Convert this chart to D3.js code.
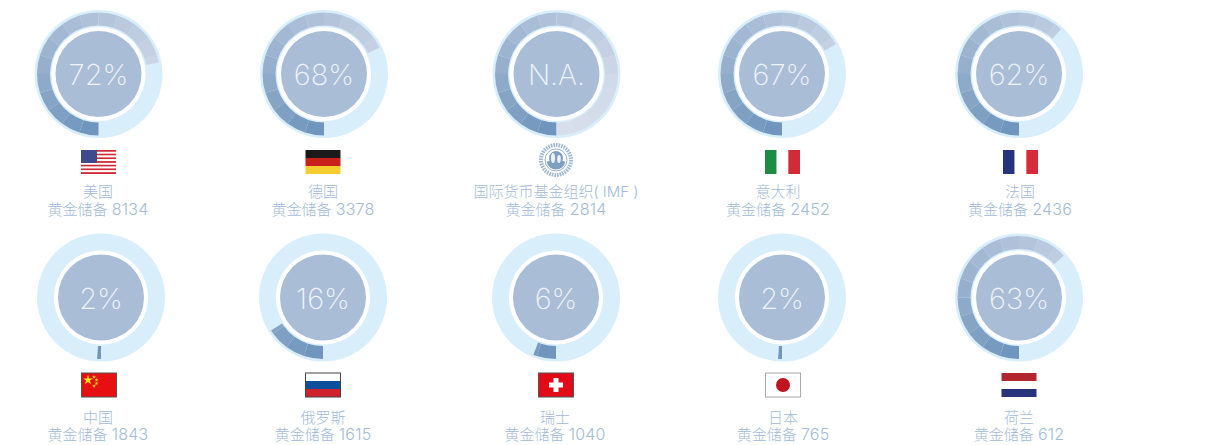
<!DOCTYPE html>
<html><head><meta charset="utf-8">
<script src="https://cdn.jsdelivr.net/npm/d3@7/dist/d3.min.js"></script>
<style>html,body{margin:0;padding:0;background:#fff;overflow:hidden}svg{display:block}</style>
</head><body><svg id="c" width="1229" height="445"></svg>
<script>
const countries=["美国","德国","国际货币基金组织( IMF )","意大利","法国","中国","俄罗斯","瑞士","日本","荷兰"];
const reserves=[8134,3378,2814,2452,2436,1843,1615,1040,765,612];
const shares=[72,68,null,67,62,1,16,6,1,63];
const shareLabels=["72%","68%","N.A.","67%","62%","2%","16%","6%","2%","63%"];
const flags=["us","de","imf","it","fr","cn","ru","ch","jp","nl"];

// layout (not data)
const gaugeX=[98.5,324,556.5,782,1019,101,323,556,782,1019];
const flagX=[98.5,323,556,782.5,1020.5,99,323,556,783,1019];
const labelX=[98,323,556,778,1020,98,323,555,783,1019];
const rowY=[74,297.5], flagY=[162,385], nameY=[197,422.5], valueY=[215,440];
const SEG=18, N=20;

const svg=d3.select("#c");
const angle=d3.scaleLinear().domain([0,100]).range([Math.PI,3*Math.PI]);
const segColor=d3.scaleLinear().domain([0,3,5,8,12,15,19]).range(["#7096bd","#86a5c5","#96afcc","#a9bdd6","#bfcde0","#d0dae8","#d6dfeb"]);
const arc=d3.arc().innerRadius(48.5).outerRadius(61.5);

const g=svg.selectAll("g.item").data(countries).join("g").attr("class","item");

g.each(function(name,i){
  const s=d3.select(this), row=i<5?0:1, cx=gaugeX[i], cy=rowY[row];
  const gauge=s.append("g").attr("transform",`translate(${cx},${cy})`);
  gauge.append("circle").attr("r",64).attr("fill","#d9eefb");
  const v=shares[i]===null?100:shares[i];
  const end=angle(v);
  const segs=d3.range(N).map(k=>({k,a0:angle(0)+k*SEG*Math.PI/180,a1:Math.min(end,angle(0)+(k+1)*SEG*Math.PI/180)})).filter(d=>d.a1>d.a0);
  gauge.selectAll("path").data(segs).join("path")
    .attr("d",d=>arc({startAngle:d.a0,endAngle:d.a1}))
    .attr("fill",d=>segColor(d.k));
  gauge.append("circle").attr("r",47).attr("fill","#fff");
  gauge.append("circle").attr("r",43).attr("fill","#a9bdd7");
  gauge.append("text").attr("text-anchor","middle").attr("y",11)
    .attr("font-family","Inter, Roboto, sans-serif").attr("font-weight",200)
    .attr("font-size",29).attr("fill","#f0f4f9").text(shareLabels[i]);
  const fy=flags[i]==="imf"?flagY[row]-2:flagY[row];
  drawFlag(s.append("g").attr("transform",`translate(${flagX[i]},${fy})`),flags[i]);
  const t=s.append("g").attr("text-anchor","middle").attr("font-family","Inter,'Noto Sans CJK SC',sans-serif").attr("font-weight",300).attr("font-size",15).attr("fill","#a2bbd7");
  t.append("text").attr("x",labelX[i]).attr("y",nameY[row]).text(name);
  const vt=t.append("text").attr("x",labelX[i]).attr("y",valueY[row]);
  vt.append("tspan").text("黄金储备 ");
  vt.append("tspan").attr("font-size",16).attr("letter-spacing",.2).text(reserves[i]);
});

function bands(sel,w,h,cols,vertical){
  cols.forEach((c,k)=>{
    if(vertical) sel.append("rect").attr("x",-w/2+k*w/cols.length).attr("y",-h/2).attr("width",w/cols.length).attr("height",h).attr("fill",c);
    else sel.append("rect").attr("x",-w/2).attr("y",-h/2+k*h/cols.length).attr("width",w).attr("height",h/cols.length).attr("fill",c);
  });
}
function drawFlag(f,code){
  const w=35,h=24;
  if(code==="us"){
    bands(f,w,h,d3.range(13).map(k=>k%2?"#fff":"#cf2a36"),false);
    f.append("rect").attr("x",-w/2).attr("y",-h/2).attr("width",16).attr("height",13).attr("fill","#3f4a8c");
  } else if(code==="de") bands(f,w,h,["#1a1a1a","#c8201c","#f2cf2e"],false);
  else if(code==="it") bands(f,w,h,["#1f8c46","#fff","#d02b37"],true);
  else if(code==="fr") bands(f,w,h,["#27337a","#fff","#d62b3a"],true);
  else if(code==="nl") bands(f,w,h,["#b3262f","#fff","#27337a"],false);
  else if(code==="ru"){
    bands(f,w,h,["#fff","#0d4f9a","#d0222c"],false);
    f.append("rect").attr("x",-w/2).attr("y",-h/2).attr("width",w).attr("height",h).attr("fill","none").attr("stroke","#444").attr("stroke-width",1);
  } else if(code==="cn"){
    f.append("rect").attr("x",-w/2).attr("y",-h/2).attr("width",w).attr("height",h).attr("fill","#e60f12").attr("stroke","#555").attr("stroke-width",1);
    const star=d3.symbol().type(d3.symbolStar);
    f.append("path").attr("d",star.size(30)()).attr("transform","translate(-11,-5)").attr("fill","#f8e71c");
    [[-5,-8],[-2.5,-5],[-2.5,-1.5],[-5,1]].forEach(p=>f.append("path").attr("d",star.size(5)()).attr("transform",`translate(${p})`).attr("fill","#f8d21c"));
  } else if(code==="ch"){
    f.append("rect").attr("x",-w/2).attr("y",-h/2).attr("width",w).attr("height",h).attr("fill","#e30a17").attr("stroke","#555").attr("stroke-width",1);
    f.append("rect").attr("x",-7).attr("y",-2.5).attr("width",14).attr("height",5).attr("fill","#fff");
    f.append("rect").attr("x",-2.5).attr("y",-7).attr("width",5).attr("height",14).attr("fill","#fff");
  } else if(code==="jp"){
    f.append("rect").attr("x",-w/2).attr("y",-h/2).attr("width",w).attr("height",h).attr("fill","#fff").attr("stroke","#aaa").attr("stroke-width",1);
    f.append("circle").attr("r",7).attr("fill","#c0141e");
  } else if(code==="imf"){
    const c="#7f9fc0";
    f.append("circle").attr("r",15).attr("fill","none").attr("stroke",c).attr("stroke-width",4).attr("stroke-dasharray","1.6 1").attr("opacity",.75);
    f.append("circle").attr("r",11).attr("fill","#fff").attr("stroke",c).attr("stroke-width",.8);
    f.append("path").attr("d",d3.arc().innerRadius(0).outerRadius(9.5)({startAngle:Math.PI*0.55,endAngle:Math.PI*1.45})).attr("fill",c);
    f.append("circle").attr("r",7).attr("cy",-2).attr("fill",c);
    f.append("ellipse").attr("rx",2).attr("ry",5).attr("cx",-3).attr("cy",-2).attr("fill","#fff").attr("opacity",.85);
    f.append("ellipse").attr("rx",1.8).attr("ry",4).attr("cx",3).attr("cy",-1).attr("fill","#fff").attr("opacity",.85);
  }
}
</script></body></html>
